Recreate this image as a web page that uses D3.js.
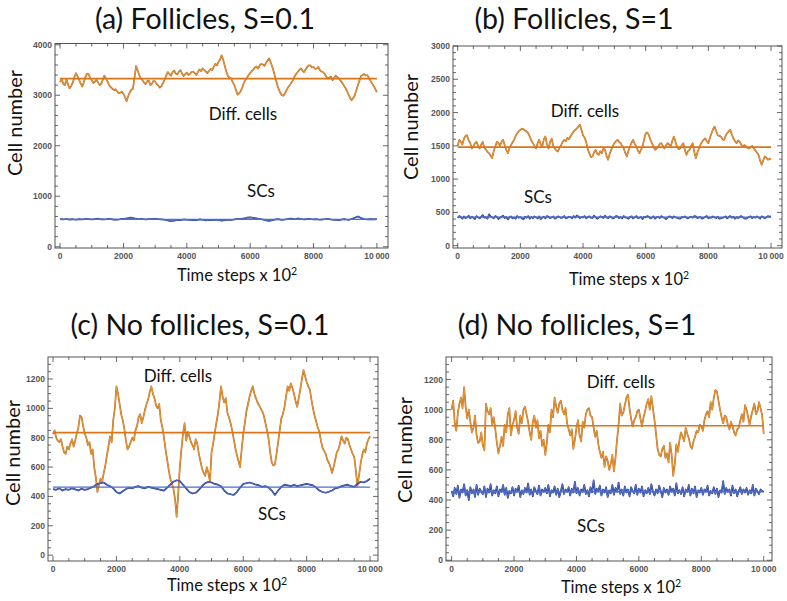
<!DOCTYPE html>
<html><head><meta charset="utf-8">
<script src="https://cdn.jsdelivr.net/npm/d3@7"></script>
<style>body{margin:0;background:#fff}</style>
</head><body>
<svg id="c" width="787" height="601"></svg>
<script>
// Values sampled evenly over 0 .. 10000 time steps (x 10^2)
const aDiff = [3260,3320,3230,3200,3310,3220,3140,3180,3250,3350,3440,3380,3310,3230,3170,3260,3360,3430,3420,3340,3300,3240,3270,3310,3250,3200,3230,3310,3390,3330,3270,3200,3160,3130,3100,3120,3080,3040,3050,3070,3030,2960,2880,2980,3060,3110,3130,3350,3580,3490,3400,3330,3300,3250,3220,3280,3290,3200,3230,3290,3270,3220,3190,3150,3180,3240,3310,3390,3460,3420,3390,3460,3490,3430,3410,3470,3500,3430,3380,3420,3450,3400,3420,3460,3470,3440,3400,3460,3510,3480,3530,3500,3470,3440,3480,3520,3500,3560,3620,3590,3660,3710,3790,3700,3580,3460,3380,3350,3330,3260,3200,3110,3010,3040,3080,3150,3250,3300,3350,3400,3440,3480,3510,3550,3570,3530,3590,3620,3610,3580,3640,3690,3730,3650,3560,3450,3330,3220,3120,3050,3000,2990,3040,3100,3160,3200,3250,3300,3370,3420,3460,3500,3530,3490,3460,3510,3560,3590,3590,3550,3560,3520,3530,3560,3500,3470,3460,3420,3370,3330,3350,3370,3300,3340,3390,3360,3330,3290,3250,3200,3150,3090,3020,2950,2900,2940,3000,3100,3200,3290,3380,3400,3420,3390,3400,3340,3280,3230,3180,3120,3060];
const aSC = [545,540,550,538,545,535,548,540,552,545,540,548,555,542,540,550,545,538,535,545,550,560,575,570,555,545,550,540,548,545,552,545,540,535,520,505,515,530,525,540,535,530,528,525,540,535,520,530,525,535,530,515,525,535,530,540,545,550,560,575,580,570,560,550,540,520,510,525,540,545,530,540,550,555,545,560,550,540,545,550,540,545,535,540,550,545,535,530,525,540,545,530,550,575,600,570,550,540,545,540,545];
const bDiff = [1500,1590,1560,1520,1610,1650,1660,1580,1540,1460,1490,1540,1560,1500,1460,1520,1560,1470,1440,1410,1390,1350,1315,1420,1490,1560,1540,1500,1560,1590,1510,1440,1390,1460,1510,1550,1590,1650,1690,1720,1740,1760,1750,1730,1715,1690,1640,1580,1540,1500,1460,1540,1590,1520,1490,1600,1640,1520,1460,1560,1610,1500,1460,1430,1415,1470,1510,1560,1590,1570,1620,1600,1640,1680,1715,1740,1760,1790,1815,1740,1660,1620,1560,1450,1390,1330,1340,1400,1440,1380,1365,1420,1390,1460,1440,1350,1290,1380,1440,1500,1540,1570,1590,1560,1540,1500,1460,1390,1340,1430,1490,1550,1590,1530,1490,1430,1390,1440,1490,1600,1690,1700,1660,1590,1540,1480,1440,1460,1490,1530,1540,1500,1460,1510,1540,1520,1490,1580,1640,1560,1490,1450,1460,1510,1540,1440,1365,1420,1440,1500,1540,1410,1315,1400,1460,1520,1560,1590,1610,1570,1540,1620,1690,1750,1790,1720,1660,1650,1640,1600,1590,1650,1690,1720,1740,1670,1610,1570,1540,1580,1560,1520,1490,1510,1490,1470,1460,1480,1500,1460,1430,1400,1365,1280,1215,1280,1340,1320,1290,1300,1310];
const bSC = [420,445,430,405,440,415,425,450,410,435,420,400,445,425,410,435,460,420,430,405,470,440,425,410,445,430,400,420,435,450,415,430,395,425,440,410,425,405,445,420,430,410,395,435,420,445,405,430,415,440,425,410,440,400,420,435,410,445,430,415,425,440,405,420,440,430,415,425,445,410,420,435,430,410,445,420,455,440,415,430,425,445,410,430,440,420,415,450,430,405,420,440,435,415,450,425,415,440,430,410,420,445,440,415,430,410,445,425,420,405,430,440,410,425,445,415,420,430,400,435,425,445,435,410,420,440,405,430,430,415,445,425,420,400,425,440,435,415,440,425,420,410,405,430,425,440,420,410,425,435,420,445,440,415,425,430,405,420,430,445,410,425,420,440,425,415,435,405,410,420,425,440,410,430,445,420,435,405,430,415,430,445,425,410,405,420,430,440,415,430,420,440,425,405,440,430,410,425,445,435,440];
const cDiff = [825,850,800,780,770,790,740,700,690,740,720,760,790,740,780,830,870,950,940,880,830,800,750,770,690,720,600,530,430,480,520,500,560,610,680,740,810,770,920,1000,1150,1100,1030,960,920,860,780,720,740,770,800,780,850,880,940,960,900,940,990,1030,1060,1110,1150,1100,1070,1020,1000,1030,920,870,800,720,650,580,520,490,450,380,260,420,600,720,830,900,780,840,810,770,750,720,790,760,690,640,590,560,540,600,560,500,700,760,830,900,960,1050,1150,1080,1040,1070,970,940,900,850,790,730,680,640,600,720,830,900,980,1030,1080,1120,1150,1100,1070,1040,1020,1000,980,950,900,850,790,700,630,610,620,690,770,850,930,960,1010,1080,1150,1120,1170,1140,1100,1050,1010,1070,1130,1200,1260,1220,1180,1150,1130,1060,1000,950,910,870,840,780,730,710,690,650,630,600,560,600,650,700,720,760,810,780,760,800,790,750,720,690,670,580,470,540,620,680,720,700,760,790,810];
const cSC = [450,445,455,440,450,445,455,448,440,452,445,450,460,470,485,490,495,480,470,455,430,420,435,450,460,455,465,470,460,455,465,460,455,450,445,440,460,480,500,510,505,480,455,430,420,425,445,470,490,500,495,485,480,470,440,420,415,410,430,460,485,490,495,488,480,475,465,470,460,440,410,440,465,480,475,470,480,470,475,480,485,480,475,460,440,430,425,432,440,455,460,470,475,480,470,465,485,500,495,505,520];
const dDiff = [1000,1060,910,860,980,1040,1080,1010,1150,1020,940,1000,920,850,880,960,830,780,790,850,760,730,1040,990,970,1010,900,950,870,780,710,760,820,760,900,850,970,1010,830,900,930,990,880,840,960,910,1000,1020,970,920,850,800,920,960,880,930,810,860,760,800,700,780,900,850,1000,950,1080,1020,980,1040,1060,1000,970,1010,910,870,830,870,740,800,880,930,830,790,920,880,970,1000,1010,960,950,880,820,860,770,720,680,720,620,690,660,600,640,700,590,680,800,900,1040,960,980,1030,1080,1100,1010,940,890,930,950,990,1000,940,890,950,990,1040,1070,1000,1090,1010,930,840,740,700,690,740,760,680,710,650,780,700,560,640,770,720,800,850,820,790,880,840,810,760,740,790,820,860,850,900,890,860,930,970,990,950,1050,1000,1080,1130,1120,1060,1000,950,910,960,950,900,870,920,890,850,830,870,880,930,970,920,1030,1000,950,900,960,1000,1040,970,990,1050,1010,960,840];
const dSC = [460,425,480,440,495,415,470,450,505,430,465,400,485,445,470,420,500,435,475,455,440,490,420,475,450,505,430,465,445,490,425,470,455,500,435,480,415,460,445,485,430,475,455,495,420,465,440,480,450,510,435,470,425,485,460,440,495,430,470,455,480,445,500,425,465,450,490,435,475,420,460,505,440,470,455,485,430,475,450,520,445,480,430,470,455,500,440,465,425,485,450,530,440,475,460,495,430,470,450,485,420,465,445,500,435,480,455,515,440,470,430,490,450,470,425,485,460,445,500,435,475,450,490,425,465,445,480,440,505,455,430,470,445,495,460,420,480,450,470,435,490,455,475,430,510,445,465,440,485,425,470,455,500,430,475,445,490,420,465,450,480,435,470,455,495,430,460,445,485,440,475,420,465,450,525,440,480,455,470,430,495,445,470,425,460,485,440,470,450,480,435,465,445,500,430,475,455,440,470,460,455];

const diffMeans = [3330, 1480, 835, 893];
const scMeans = [540, 430, 463, 455];
const titles = ["(a) Follicles, S=0.1", "(b) Follicles, S=1", "(c) No follicles, S=0.1", "(d) No follicles, S=1"];
const yTickValues = [[0,1000,2000,3000,4000],[0,500,1000,1500,2000,2500,3000],[0,200,400,600,800,1000,1200],[0,200,400,600,800,1000,1200]];
const yMinorStep = [200, 100, 50, 50];
const yDomains = [[-25,4025],[-35,3000],[-40,1350],[-5,1350]];
const xTickValues = [0,2000,4000,6000,8000,10000];
const xTickLabels = ["0","2000","4000","6000","8000","10\u2009000"];
const xDomains = [[-160,10350],[-150,10350],[-158,10250],[-180,10265]];
const tMax = 10000;

const diffSeries = [aDiff, bDiff, cDiff, dDiff];
const scSeries = [aSC, bSC, cSC, dSC];

// layout
const boxes = [
  {l:55, r:388, t:43.5, b:248, tx:205, ty:29, ylx:22, yly:123, xlx:237, xly:281, dx:243, dy:120, sx:261, sy:197},
  {l:453, r:782, t:46, b:248, tx:574, ty:29, ylx:418, yly:127, xlx:629, xly:285, dx:585, dy:117, sx:538, sy:203},
  {l:48, r:378, t:357, b:561, tx:200, ty:335, ylx:20, yly:453, xlx:227, xly:591, dx:178, dy:382, sx:272, sy:520},
  {l:446, r:772, t:357, b:561, tx:577, ty:335, ylx:412, yly:450, xlx:621, xly:593, dx:621, dy:388, sx:591, sy:532}
];

const svg = d3.select("#c");
const FONT = "Lato, 'Open Sans', sans-serif";

boxes.forEach((bx, i) => {
  const x = d3.scaleLinear().domain(xDomains[i]).range([bx.l, bx.r]);
  const y = d3.scaleLinear().domain(yDomains[i]).range([bx.b, bx.t]);
  const g = svg.append("g");

  g.append("text").attr("x", bx.tx).attr("y", bx.ty).attr("text-anchor","middle")
    .style("font-family", FONT).style("font-size","28.5px").attr("fill","#111").text(titles[i]);

  const mkLine = arr => d3.line().x((d,j)=>x(j * tMax / (arr.length - 1))).y(d=>y(d))(arr);
  const drawSeries = (arr, dark, light) => {
    g.append("path").attr("d", mkLine(arr)).attr("fill","none")
      .attr("stroke",dark).attr("stroke-width",1.7).attr("stroke-linejoin","round");
    g.append("path").attr("d", mkLine(arr)).attr("fill","none")
      .attr("stroke",light).attr("stroke-width",0.8).attr("stroke-linejoin","round");
  };
  drawSeries(diffSeries[i], "#c4621b", "#e9a83f");
  drawSeries(scSeries[i], "#1f3188", "#5d7fd2");

  g.append("line").attr("x1", x(0)).attr("x2", x(tMax)).attr("y1", y(diffMeans[i])).attr("y2", y(diffMeans[i]))
    .attr("stroke","#d9761a").attr("stroke-width",1.6);
  g.append("line").attr("x1", x(0)).attr("x2", x(tMax)).attr("y1", y(scMeans[i])).attr("y2", y(scMeans[i]))
    .attr("stroke","#4d6fcc").attr("stroke-width",1.3);

  g.append("rect").attr("x",bx.l).attr("y",bx.t).attr("width",bx.r-bx.l).attr("height",bx.b-bx.t)
    .attr("fill","none").attr("stroke","#555").attr("stroke-width",1);

  const yMaj = yTickValues[i];
  const yMin = d3.range(0, yDomains[i][1], yMinorStep[i]).filter(v => !yMaj.includes(v));
  const xMin = d3.range(0, tMax + 1, 500).filter(v => !xTickValues.includes(v));
  const tick = (x1,y1,x2,y2)=>g.append("line").attr("x1",x1).attr("y1",y1).attr("x2",x2).attr("y2",y2).attr("stroke","#444").attr("stroke-width",0.8);
  yMaj.forEach(v=>{ tick(bx.l,y(v),bx.l+5,y(v)); tick(bx.r,y(v),bx.r-5,y(v)); });
  yMin.forEach(v=>{ tick(bx.l,y(v),bx.l+3,y(v)); tick(bx.r,y(v),bx.r-3,y(v)); });
  xTickValues.forEach(v=>{ tick(x(v),bx.b,x(v),bx.b-5); tick(x(v),bx.t,x(v),bx.t+5); });
  xMin.forEach(v=>{ tick(x(v),bx.b,x(v),bx.b-3); tick(x(v),bx.t,x(v),bx.t+3); });

  yMaj.forEach(v=>g.append("text").attr("x",bx.l-3).attr("y",y(v)+3).attr("text-anchor","end")
    .style("font-family","'Liberation Sans', Arial, sans-serif").style("font-size","8.5px").style("font-weight","bold")
    .attr("fill","#555").text(v));
  xTickValues.forEach((v,k)=>g.append("text").attr("x",x(v)).attr("y",bx.b+11).attr("text-anchor","middle")
    .style("font-family","'Liberation Sans', Arial, sans-serif").style("font-size","8.5px").style("font-weight","bold")
    .attr("fill","#555").text(xTickLabels[k]));

  g.append("text").attr("transform",`translate(${bx.ylx},${bx.yly}) rotate(-90)`).attr("text-anchor","middle")
    .style("font-family",FONT).style("font-size","20px").attr("fill","#111").text("Cell number");
  const xl = g.append("text").attr("x",bx.xlx).attr("y",bx.xly).attr("text-anchor","middle")
    .style("font-family",FONT).style("font-size","16.5px").attr("fill","#111");
  xl.append("tspan").text("Time steps x 10");
  xl.append("tspan").attr("dy",-6).style("font-size","10.5px").text("2");

  g.append("text").attr("x",bx.dx).attr("y",bx.dy).attr("text-anchor","middle")
    .style("font-family",FONT).style("font-size","17px").attr("fill","#111").text("Diff. cells");
  g.append("text").attr("x",bx.sx).attr("y",bx.sy).attr("text-anchor","middle")
    .style("font-family",FONT).style("font-size","17px").attr("fill","#111").text("SCs");
});
</script>
</body></html>
